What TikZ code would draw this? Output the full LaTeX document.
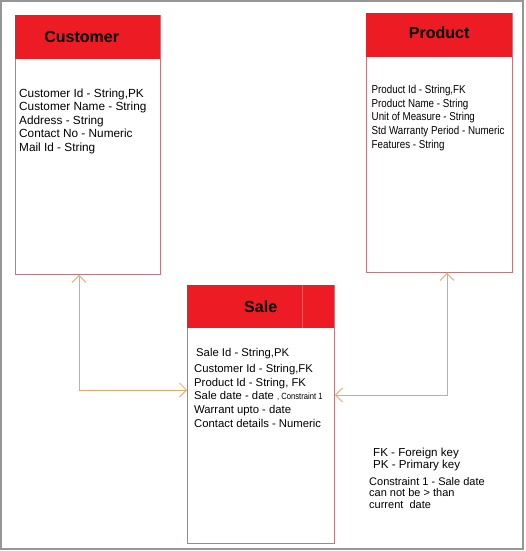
\documentclass[tikz,border=0pt]{standalone}
\usepackage{fontspec}
\setmainfont{Liberation Sans}
\newfontfamily\narrowfont[FakeStretch=0.85]{Liberation Sans}
\usepackage{tikz}
\usepackage{xcolor}
\usetikzlibrary{arrows.meta}
\definecolor{head-red}{RGB}{237,28,36}
\definecolor{box-line}{RGB}{190,120,128}
\definecolor{link-line}{RGB}{228,168,108}
\definecolor{frame-gray}{RGB}{150,150,150}
\tikzset{
    entity-box/.style = {draw=box-line, fill=white, line width=0.9pt, rectangle, anchor=north west, inner sep=0pt},
    entity-head/.style = {fill=head-red, rectangle, anchor=north west, inner sep=0pt},
    entity-title/.style = {font=\fontsize{16}{18}\selectfont\bfseries, text=black, inner sep=0pt},
    entity-attrs/.style = {anchor=base west, align=left, inner sep=0pt},
    link/.style = {draw=link-line, line width=0.8pt, {Straight Barb[length=7pt,width=14pt]}-{Straight Barb[length=7pt,width=14pt]}},
}

\begin{document}
\begin{tikzpicture}[x=1pt,y=-1pt]
\useasboundingbox (0,0) rectangle (525,551);
\draw[frame-gray, line width=1.6pt] (1,1) rectangle (523,549);

% entities
\node[entity-box, minimum width=145pt, minimum height=259pt] (customer) at (15,15) {};
\node[entity-head, minimum width=145pt, minimum height=44pt] (customer-head) at (customer.north west) {};
\node[entity-title] at ([xshift=-6pt]customer-head.center) {Customer};

\node[entity-box, minimum width=146pt, minimum height=259pt] (product) at (366,13) {};
\node[entity-head, minimum width=146pt, minimum height=44pt] (product-head) at (product.north west) {};
\node[entity-title] at ([yshift=2.5pt]product-head.center) {Product};

\node[entity-box, minimum width=147pt, minimum height=258pt] (sale) at (187,285) {};
\node[entity-head, minimum width=147pt, minimum height=43pt] (sale-head) at (sale.north west) {};
\node[entity-title] at (sale-head.center) {Sale};
\coordinate (seam) at (302,0);
\draw[head-red!75!white, line width=0.6pt] (sale-head.north -| seam) -- (sale-head.south -| seam);

% attributes (placed by the baseline of the last line)
\node[entity-attrs, font=\fontsize{11.8}{13.6}\selectfont] (customer-attrs) at (19,151.4)
    {Customer Id - String,PK\\Customer Name - String\\Address - String\\Contact No - Numeric\\Mail Id - String};
\node[entity-attrs, font=\narrowfont\fontsize{11.5}{13.7}\selectfont] (product-attrs) at (371.5,148.1)
    {Product Id - String,FK\\Product Name - String\\Unit of Measure - String\\Std Warranty Period - Numeric\\Features - String};
\node[entity-attrs, font=\fontsize{11.3}{13.75}\selectfont] (sale-attrs) at (194,427.3)
    {\hspace{2pt}Sale Id - String,PK\\[1.9pt]Customer Id - String,FK\\Product Id - String, FK\\Sale date - date {\narrowfont\fontsize{9}{10}\selectfont, Constraint 1}\\Warrant upto - date\\Contact details - Numeric};

% notes
\node[entity-attrs, font=\fontsize{11.6}{11.7}\selectfont] (key-note) at (373,468.4)
    {FK - Foreign key\\PK - Primary key};
\node[entity-attrs, font=\fontsize{11}{11.7}\selectfont] (constraint-note) at (369,508.4)
    {Constraint 1 - Sale date\\can not be > than\\current\ \ date};

% relations
\coordinate (cs-corner) at (79,390);
\coordinate (ps-corner) at (447,395);
\draw[link] (customer.south -| cs-corner) |- (sale.west |- cs-corner);
\draw[link] (product.south -| ps-corner) |- (sale.east |- ps-corner);
\end{tikzpicture}
\end{document}
